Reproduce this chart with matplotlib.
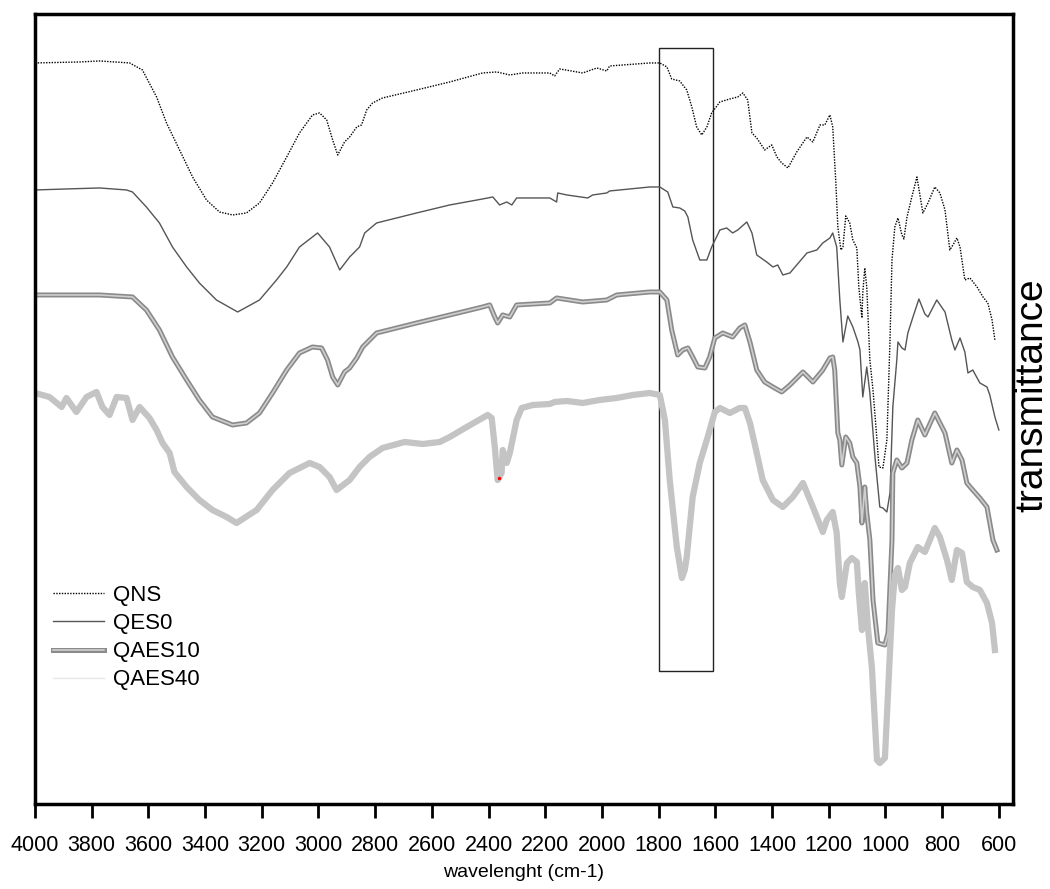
import matplotlib
matplotlib.use("Agg")
import matplotlib.pyplot as plt
import matplotlib.patheffects as pe
from matplotlib.patches import Rectangle

plt.rcParams['font.family'] = ['Liberation Sans', 'DejaVu Sans']

# espectros FTIR (numero de onda, transmitancia en unidades arbitrarias)
qns_w = [4000, 3843, 3772, 3719, 3666, 3621, 3571, 3536, 3490, 3444, 3395, 3349, 3303, 3254, 3208,
         3162, 3112, 3067, 3021, 2996, 2971, 2950, 2932, 2908, 2890, 2865, 2848, 2830, 2809, 2774,
         2654, 2537, 2421, 2371, 2325, 2280, 2184, 2167, 2149, 2068, 2018, 1983, 1973, 1831, 1796,
         1771, 1754, 1726, 1701, 1683, 1666, 1648, 1630, 1613, 1584, 1549, 1521, 1503, 1486, 1471,
         1454, 1426, 1401, 1383, 1366, 1344, 1313, 1277, 1256, 1231, 1214, 1196, 1186, 1175, 1168,
         1157, 1150, 1140, 1126, 1115, 1101, 1094, 1083, 1080, 1073, 1066, 1055, 1044, 1030, 1023,
         1009, 995, 984, 977, 967, 956, 942, 935, 924, 907, 889, 868, 850, 826, 808,
         790, 773, 762, 748, 737, 720, 702, 677, 656, 639, 624, 614]
qns_t = [741, 742, 743, 742, 741, 734, 707, 681, 654, 627, 604, 592, 589, 591, 601,
         621, 647, 671, 689, 691, 684, 664, 649, 662, 667, 677, 679, 694, 701, 706,
         714, 722, 731, 732, 729, 731, 731, 728, 735, 731, 736, 733, 738, 741, 741,
         737, 725, 723, 714, 697, 677, 669, 677, 691, 702, 705, 707, 711, 704, 671,
         666, 654, 659, 647, 641, 636, 652, 667, 662, 679, 679, 689, 677, 621, 577,
         554, 557, 588, 581, 564, 556, 517, 486, 511, 536, 517, 444, 414, 364, 337,
         336, 364, 464, 544, 577, 586, 569, 565, 587, 607, 627, 591, 601, 617, 611,
         594, 554, 559, 566, 557, 524, 526, 517, 507, 501, 484, 464]

qes0_w = [4000, 3889, 3772, 3677, 3656, 3607, 3561, 3515, 3465, 3420, 3360, 3285, 3208, 3148, 3112,
          3067, 3003, 2961, 2925, 2890, 2855, 2837, 2795, 2654, 2537, 2421, 2385, 2361, 2336, 2318,
          2301, 2184, 2160, 2156, 2124, 2050, 2033, 1983, 1973, 1831, 1796, 1768, 1750, 1726, 1708,
          1697, 1680, 1655, 1630, 1613, 1584, 1560, 1539, 1521, 1489, 1471, 1454, 1419, 1397, 1380,
          1362, 1337, 1313, 1277, 1242, 1221, 1196, 1186, 1172, 1161, 1150, 1133, 1115, 1097, 1090,
          1080, 1066, 1055, 1037, 1020, 1009, 995, 984, 974, 960, 956, 942, 931, 921, 903,
          882, 861, 850, 819, 790, 766, 755, 737, 720, 709, 692, 667, 642, 632, 614, 600]
qes0_t = [614, 615, 616, 614, 612, 597, 581, 557, 537, 521, 504, 492, 504, 524, 537,
          557, 571, 557, 534, 547, 557, 571, 581, 591, 599, 605, 607, 599, 602, 599,
          606, 606, 602, 611, 609, 606, 609, 611, 613, 617, 617, 612, 597, 596, 593,
          587, 564, 544, 544, 557, 574, 576, 571, 574, 582, 571, 549, 542, 537, 539,
          529, 531, 539, 551, 554, 561, 566, 571, 557, 504, 462, 488, 477, 462, 454,
          407, 437, 411, 347, 297, 296, 292, 311, 397, 444, 462, 456, 454, 471, 487,
          505, 490, 487, 504, 492, 464, 454, 466, 452, 431, 434, 421, 417, 409, 387, 374]

qaes10_w = [4000, 3889, 3772, 3656, 3607, 3561, 3515, 3465, 3420, 3374, 3303, 3254, 3208, 3162, 3112,
            3067, 3021, 2989, 2968, 2950, 2932, 2908, 2890, 2865, 2844, 2795, 2654, 2537, 2421, 2396,
            2378, 2368, 2350, 2325, 2301, 2184, 2160, 2068, 1983, 1948, 1831, 1796, 1771, 1754, 1733,
            1715, 1697, 1680, 1662, 1637, 1620, 1602, 1574, 1539, 1514, 1496, 1478, 1454, 1426, 1397,
            1366, 1337, 1291, 1256, 1221, 1196, 1186, 1179, 1168, 1161, 1154, 1140, 1126, 1115, 1101,
            1090, 1083, 1073, 1066, 1055, 1044, 1027, 1002, 991, 977, 974, 960, 942, 924, 907,
            886, 861, 826, 790, 766, 748, 730, 713, 692, 667, 642, 621, 607]
qaes10_t = [509, 509, 509, 507, 494, 474, 447, 424, 404, 387, 379, 381, 391, 411, 434,
            451, 457, 456, 444, 427, 419, 432, 436, 446, 457, 471, 481, 489, 497, 499,
            487, 481, 489, 487, 499, 501, 506, 502, 504, 509, 512, 512, 504, 474, 449,
            454, 456, 447, 437, 436, 447, 466, 471, 467, 476, 479, 462, 434, 422, 417,
            412, 419, 432, 422, 434, 446, 447, 434, 371, 364, 339, 367, 361, 347, 341,
            317, 281, 317, 291, 264, 204, 161, 159, 171, 264, 331, 344, 336, 341, 364,
            384, 369, 391, 371, 341, 354, 344, 321, 314, 306, 297, 264, 254]

qaes40_w = [4000, 3949, 3906, 3889, 3854, 3818, 3783, 3762, 3737, 3712, 3677, 3656, 3631, 3596, 3571,
            3550, 3525, 3508, 3465, 3420, 3374, 3324, 3289, 3218, 3162, 3102, 3031, 2996, 2961, 2936,
            2890, 2855, 2820, 2774, 2696, 2632, 2572, 2537, 2477, 2403, 2389, 2378, 2368, 2354, 2350,
            2336, 2325, 2301, 2283, 2244, 2184, 2167, 2124, 2068, 2008, 1948, 1891, 1831, 1796, 1778,
            1761, 1736, 1718, 1708, 1701, 1680, 1655, 1627, 1602, 1584, 1549, 1514, 1496, 1478, 1454,
            1433, 1397, 1362, 1327, 1291, 1256, 1221, 1207, 1186, 1172, 1161, 1154, 1136, 1119, 1101,
            1094, 1083, 1073, 1062, 1048, 1030, 1020, 1002, 991, 977, 967, 956, 942, 931, 914,
            886, 861, 826, 808, 783, 766, 748, 730, 713, 692, 667, 642, 624, 614]
qaes40_t = [411, 407, 397, 406, 392, 407, 412, 397, 389, 407, 406, 384, 397, 386, 374,
            361, 351, 332, 317, 304, 294, 287, 281, 294, 314, 331, 341, 337, 327, 314,
            324, 337, 347, 356, 362, 360, 362, 367, 377, 389, 386, 357, 324, 331, 354,
            341, 351, 384, 396, 399, 400, 402, 403, 401, 404, 406, 409, 411, 409, 384,
            324, 257, 226, 234, 247, 307, 341, 367, 392, 396, 391, 396, 396, 381, 351,
            324, 304, 297, 307, 321, 297, 272, 284, 292, 271, 221, 207, 241, 246, 242,
            211, 174, 221, 177, 137, 44, 41, 46, 111, 194, 229, 236, 214, 217, 241,
            257, 252, 276, 267, 244, 224, 254, 251, 222, 217, 214, 201, 181, 154]

# punto rojo en el minimo de 2360
red_w = [2362]
red_t = [326]

# zona marcada con el rectangulo
box_w = [1610, 1800]
box_t = [133, 756]

fig = plt.figure(figsize=(10.5, 8.89), dpi=100)
ax = fig.add_axes([0.0333, 0.0956, 0.9315, 0.8887])

ax.plot(qns_w, qns_t, color='black', linestyle=(0, (1, 1)), linewidth=1.0, label='QNS')
ax.plot(qes0_w, qes0_t, color='#555555', linewidth=1.0, label='QES0')
ax.plot(qaes10_w, qaes10_t, color='#cfcfcf', linewidth=1.2, label='QAES10',
        path_effects=[pe.Stroke(linewidth=3.6, foreground='#8a8a8a'), pe.Normal()])
ax.plot(qaes40_w, qaes40_t, color='#c4c4c4', linewidth=4.5, label='QAES40')
ax.plot(red_w, red_t, color='red', marker='.', markersize=3, linestyle='none')

ax.add_patch(Rectangle((box_w[0], box_t[0]), box_w[1] - box_w[0], box_t[1] - box_t[0],
                       fill=False, edgecolor='#222222', linewidth=1.0))

ax.set_xlim(4000, 550)
ax.set_ylim(0, 790)
ax.set_xticks(range(4000, 599, -200))
ax.set_yticks([])
ax.tick_params(axis='x', direction='out', length=10, width=2, labelsize=15.5, pad=12)
for s in ax.spines.values():
    s.set_linewidth(2.5)

ax.set_xlabel('wavelenght (cm-1)', fontsize=14, labelpad=6)
# etiqueta vertical a la derecha, con la linea base cerca del borde
fig.text(1042 / 1050, 1 - 395 / 889, 'transmittance', rotation=90, rotation_mode='anchor',
         ha='center', va='baseline', fontsize=28)

leg = ax.legend(loc='upper left', bbox_to_anchor=(0.018, 0.277), frameon=False, fontsize=16,
                labelspacing=0.32, handlelength=2.3, handletextpad=0.4, borderpad=0, borderaxespad=0)
# en la leyenda la linea de QAES40 aparece muy tenue
leg.get_lines()[3].set_linewidth(1.0)
leg.get_lines()[3].set_color('#e6e6e6')

fig.savefig('out.png', dpi=100)
